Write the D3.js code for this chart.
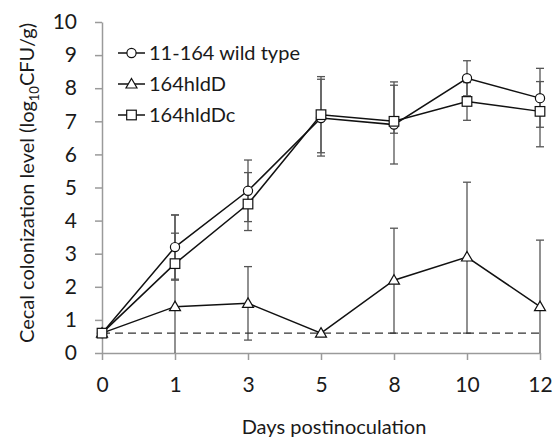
<!DOCTYPE html>
<html>
<head>
<meta charset="utf-8">
<script src="https://cdn.jsdelivr.net/npm/d3@7"></script>
<style>
  body { margin: 0; background: #fff; }
  text { font-family: Lato, "Open Sans", sans-serif; fill: #1a1a1a; }
  .axis path, .axis line { stroke: #9a9a9a; stroke-width: 1.5; }
  .axis text { font-size: 21px; }
</style>
</head>
<body>
<div id="chart"></div>
<script>
// Days on the x-axis (categorical, evenly spaced)
const days = ["0", "1", "3", "5", "8", "10", "12"];

// 11-164 wild type: mean and error bar ends
const wildType   = [0.6, 3.2, 4.9, 7.1, 6.9, 8.3, 7.7];
const wildTypeHi = [null, 4.17, 5.83, 8.27, 8.09, 8.83, 8.6];
const wildTypeLo = [null, 2.23, 3.97, 5.95, 5.71, 7.77, 6.82];

// 164hldD mutant
const hldD   = [0.6, 1.4, 1.5, 0.6, 2.2, 2.9, 1.4];
const hldDHi = [null, 4.17, 2.61, null, 3.77, 5.16, 3.41];
const hldDLo = [null, 0, 0.39, null, 0.6, 0.6, 0];

// 164hldDc complemented strain
const hldDc   = [0.6, 2.7, 4.5, 7.2, 7.0, 7.6, 7.3];
const hldDcHi = [null, 3.62, 5.45, 8.35, 8.19, 8.17, 8.2];
const hldDcLo = [null, 2.2, 3.7, 6.05, 6.64, 7.03, 6.23];

// Detection limit (dashed line)
const detectionLimit = 0.6;

const yTicks = [0, 1, 2, 3, 4, 5, 6, 7, 8, 9, 10];

const width = 553;
const height = 442;
const margin = { top: 22, right: 13, bottom: 89, left: 102 };

const svg = d3.select("#chart")
    .append("svg")
    .attr("width", width)
    .attr("height", height);

const xScale = d3.scalePoint()
    .domain(days)
    .range([margin.left, width - margin.right]);

const yScale = d3.scaleLinear()
    .domain([0, 10])
    .range([height - margin.bottom, margin.top]);

// Axes
svg.append("g")
    .attr("class", "axis")
    .attr("transform", `translate(${margin.left}, 0)`)
    .call(d3.axisLeft(yScale).tickValues(yTicks).tickSize(7).tickSizeOuter(0).tickPadding(18));

svg.append("g")
    .attr("class", "axis")
    .attr("transform", `translate(0, ${height - margin.bottom})`)
    .call(d3.axisBottom(xScale).tickSize(7).tickSizeOuter(0).tickPadding(17));

// Series definitions built from the arrays
const series = [
    { name: "11-164 wild type", values: wildType, hi: wildTypeHi, lo: wildTypeLo, shape: "circle" },
    { name: "164hldD", values: hldD, hi: hldDHi, lo: hldDLo, shape: "triangle" },
    { name: "164hldDc", values: hldDc, hi: hldDcHi, lo: hldDcLo, shape: "square" }
];

// Error bars
const capHalf = 4;
series.forEach(function(s) {
    days.forEach(function(d, i) {
        if (s.hi[i] === null) return;
        const x = xScale(d);
        const g = svg.append("g").attr("stroke", "#555").attr("stroke-width", 1.3);
        g.append("line")
            .attr("x1", x).attr("x2", x)
            .attr("y1", yScale(s.hi[i])).attr("y2", yScale(s.lo[i]));
        g.append("line")
            .attr("x1", x - capHalf).attr("x2", x + capHalf)
            .attr("y1", yScale(s.hi[i])).attr("y2", yScale(s.hi[i]));
        if (s.lo[i] > 0) {
            g.append("line")
                .attr("x1", x - capHalf).attr("x2", x + capHalf)
                .attr("y1", yScale(s.lo[i])).attr("y2", yScale(s.lo[i]));
        }
    });
});

// Dashed detection limit line
svg.append("line")
    .attr("x1", xScale(days[0]))
    .attr("x2", xScale(days[days.length - 1]))
    .attr("y1", yScale(detectionLimit))
    .attr("y2", yScale(detectionLimit))
    .attr("stroke", "#333")
    .attr("stroke-width", 1.3)
    .attr("stroke-dasharray", "8,5");

// Series lines
const line = d3.line()
    .x(function(d, i) { return xScale(days[i]); })
    .y(function(d) { return yScale(d); });

series.forEach(function(s) {
    svg.append("path")
        .attr("d", line(s.values))
        .attr("fill", "none")
        .attr("stroke", "#111")
        .attr("stroke-width", 1.5);
});

// Marker drawing helper
function drawMarker(g, shape, x, y) {
    if (shape === "circle") {
        g.append("circle").attr("cx", x).attr("cy", y).attr("r", 4.6);
    } else if (shape === "square") {
        g.append("rect").attr("x", x - 4.8).attr("y", y - 4.8).attr("width", 9.6).attr("height", 9.6);
    } else {
        g.append("path").attr("d", `M${x},${y - 5.5}L${x + 5.5},${y + 4}L${x - 5.5},${y + 4}Z`);
    }
}

series.forEach(function(s) {
    const g = svg.append("g").attr("fill", "#fff").attr("stroke", "#111").attr("stroke-width", 1.2);
    s.values.forEach(function(v, i) {
        drawMarker(g, s.shape, xScale(days[i]), yScale(v));
    });
});

// Legend
const legend = svg.append("g");
series.forEach(function(s, i) {
    const y = 53 + i * 31;
    const g = legend.append("g").attr("fill", "#fff").attr("stroke", "#111").attr("stroke-width", 1.2);
    g.append("line").attr("x1", 118).attr("x2", 145).attr("y1", y).attr("y2", y).attr("stroke-width", 1.5);
    drawMarker(g, s.shape, 131.5, y);
    legend.append("text")
        .attr("x", 149)
        .attr("y", y + 7)
        .style("font-size", "20px")
        .text(s.name);
});

// Axis titles
svg.append("text")
    .attr("x", 334)
    .attr("y", 434)
    .attr("text-anchor", "middle")
    .style("font-size", "20px")
    .text("Days postinoculation");

const yTitle = svg.append("text")
    .attr("transform", "translate(34, 183) rotate(-90)")
    .attr("text-anchor", "middle")
    .style("font-size", "20px");
yTitle.append("tspan").text("Cecal colonization level (log");
yTitle.append("tspan").attr("dy", 5).style("font-size", "13px").text("10");
yTitle.append("tspan").attr("dy", -5).text("CFU/g)");
</script>
</body>
</html>
